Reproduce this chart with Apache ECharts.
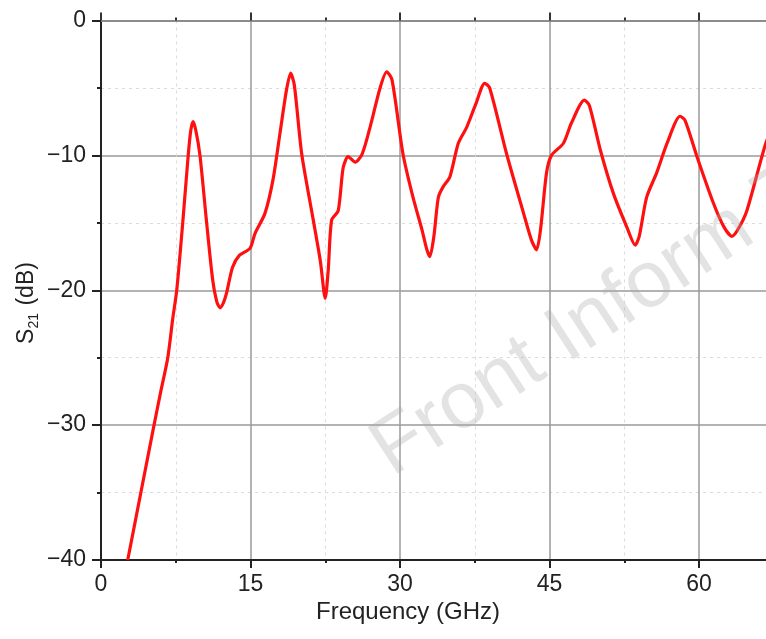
<!DOCTYPE html>
<html>
<head>
<meta charset="utf-8">
<script src="https://cdn.jsdelivr.net/npm/echarts@6/dist/echarts.min.js"></script>
<style>
  html, body { margin: 0; padding: 0; background: #fff; }
  #chart { width: 766px; height: 639px; }
</style>
</head>
<body>
<div id="chart"></div>
<script>
// Transmission coefficient S21 versus frequency
const freqGHz = [
  2.68, 4.0, 5.32, 6.0, 6.7, 7.2, 7.6, 8.2, 8.75, 9.0, 9.23, 9.5, 9.93, 10.6, 11.2, 11.6,
  11.94, 12.3, 12.6, 13.2, 13.9, 14.95, 15.45, 16.45, 17.26, 17.96, 18.6, 19.03, 19.4, 20.14,
  21.3, 22.0, 22.5, 22.8, 23.14, 23.8, 24.3, 24.8, 25.5, 26.2, 27.0, 28.0, 28.67, 29.2, 30.3,
  31.3, 32.2, 32.7, 33.0, 33.4, 33.85, 34.35, 35.0, 35.85, 36.7, 37.6, 38.5, 39.0, 40.7, 42.4,
  43.2, 43.7, 44.1, 44.7, 45.2, 46.4, 47.2, 48.5, 49.0, 50.1, 51.4, 52.75, 53.6, 54.0, 54.75,
  55.75, 56.8, 58.1, 58.6, 59.8, 61.45, 62.5, 63.3, 63.9, 64.8, 66.7, 67.5
];
const s21dB = [
  -40, -35, -30, -27.5, -25, -22.1, -20, -15, -10, -8.2, -7.5, -8.1, -10, -15, -19.2, -20.8,
  -21.3, -20.9, -20.2, -18.3, -17.4, -16.9, -15.8, -14.3, -11.8, -8.35, -5.2, -3.9, -4.8, -9.9,
  -14.8, -17.8, -20.6, -18.5, -14.8, -14.1, -10.9, -10.1, -10.5, -9.9, -7.9, -5.0, -3.8, -4.4, -9.9,
  -13.1, -15.5, -17.0, -17.5, -16.0, -13.1, -12.3, -11.6, -9.1, -7.9, -6.2, -4.66, -5.0, -9.9, -14.3,
  -16.3, -17.0, -15.5, -11.3, -10.0, -9.1, -7.6, -5.9, -6.3, -9.6, -12.8, -15.3, -16.65, -16.0, -13.1,
  -11.3, -9.1, -7.1, -7.4, -10.1, -13.55, -15.3, -16.0, -15.5, -14.1, -9.1, -7.8
];
const xTicks = [0, 15, 30, 45, 60, 75];
const yTicks = [-40, -30, -20, -10, 0];
const xTitle = 'Frequency (GHz)';
const watermark = 'Front Inform Technol Electron Eng';

const points = freqGHz.map((f, i) => [f, s21dB[i]]);
const FONT = '"Liberation Sans", Arial, sans-serif';

const chart = echarts.init(document.getElementById('chart'), null, { renderer: 'canvas' });

const fmtY = v => (v === 0 ? '0' : '\u2212' + Math.abs(v));

chart.setOption({
  animation: false,
  backgroundColor: '#ffffff',
  grid: {
    left: 101, top: 20.5, width: 747.5, bottom: 79,
    containLabel: false, outerBoundsMode: 'none'
  },
  xAxis: [
    {
      type: 'value',
      position: 'bottom',
      min: xTicks[0],
      max: xTicks[xTicks.length - 1],
      interval: 15,
      axisLine: { show: true, onZero: false, lineStyle: { color: '#222', width: 2 } },
      axisTick: { show: true, inside: false, length: 8, lineStyle: { color: '#222', width: 2 } },
      minorTick: { show: true, splitNumber: 2, length: 3, lineStyle: { color: '#222', width: 2 } },
      axisLabel: { show: true, margin: 13, color: '#222', fontFamily: FONT, fontSize: 23 },
      splitLine: { show: true, lineStyle: { color: '#9a9a9a', width: 1.5 } },
      minorSplitLine: { show: true, lineStyle: { color: '#dcdcdc', width: 1, type: [3, 4] } }
    },
    {
      type: 'value',
      position: 'top',
      min: xTicks[0],
      max: xTicks[xTicks.length - 1],
      interval: 15,
      axisLine: { show: true, onZero: false, lineStyle: { color: '#8c8c8c', width: 2 } },
      axisTick: { show: true, inside: false, length: 8, lineStyle: { color: '#333', width: 2 } },
      minorTick: { show: true, splitNumber: 2, length: 3, lineStyle: { color: '#333', width: 2 } },
      axisLabel: { show: false },
      splitLine: { show: false }
    }
  ],
  yAxis: {
    type: 'value',
    min: yTicks[0],
    max: yTicks[yTicks.length - 1],
    interval: 10,
    axisLine: { show: true, onZero: false, lineStyle: { color: '#222', width: 2 } },
    axisTick: { show: true, inside: false, length: 9, lineStyle: { color: '#222', width: 2 } },
    minorTick: { show: true, splitNumber: 2, length: 4, lineStyle: { color: '#222', width: 2 } },
    axisLabel: {
      show: true, margin: 15, color: '#222', fontFamily: FONT, fontSize: 23,
      formatter: fmtY
    },
    splitLine: { show: true, lineStyle: { color: '#9a9a9a', width: 1.5 } },
    minorSplitLine: { show: true, lineStyle: { color: '#dcdcdc', width: 1, type: [3, 4] } }
  },
  series: [
    {
      type: 'line',
      xAxisIndex: 0,
      data: points,
      showSymbol: false,
      smooth: 0.25,
      clip: true,
      lineStyle: { color: '#ff1010', width: 3.2 },
      z: 3
    }
  ],
  graphic: [
    {
      type: 'text',
      x: 408, y: 612,
      style: {
        text: xTitle,
        font: '24px ' + FONT,
        fill: '#222',
        align: 'center',
        verticalAlign: 'middle'
      }
    },
    {
      type: 'text',
      x: 27, y: 303,
      rotation: Math.PI / 2,
      style: {
        text: '{s|S}{sub|21}{n| (dB)}',
        align: 'center',
        verticalAlign: 'middle',
        fill: '#222',
        rich: {
          s: { fontSize: 23, fontFamily: FONT, color: '#222', lineHeight: 28, verticalAlign: 'middle' },
          sub: { fontSize: 14, fontFamily: FONT, color: '#222', lineHeight: 28, verticalAlign: 'bottom', padding: [0, 1, 0, 0] },
          n: { fontSize: 23, fontFamily: FONT, color: '#222', lineHeight: 28, verticalAlign: 'middle' }
        }
      }
    },
    {
      // diagonal watermark across the plot
      type: 'text',
      x: 402, y: 492,
      rotation: 33 * Math.PI / 180,
      z: 10,
      style: {
        text: watermark,
        font: '80px ' + FONT,
        fill: 'rgba(170,170,170,0.33)',
        align: 'left',
        verticalAlign: 'bottom'
      }
    }
  ]
});
</script>
</body>
</html>
